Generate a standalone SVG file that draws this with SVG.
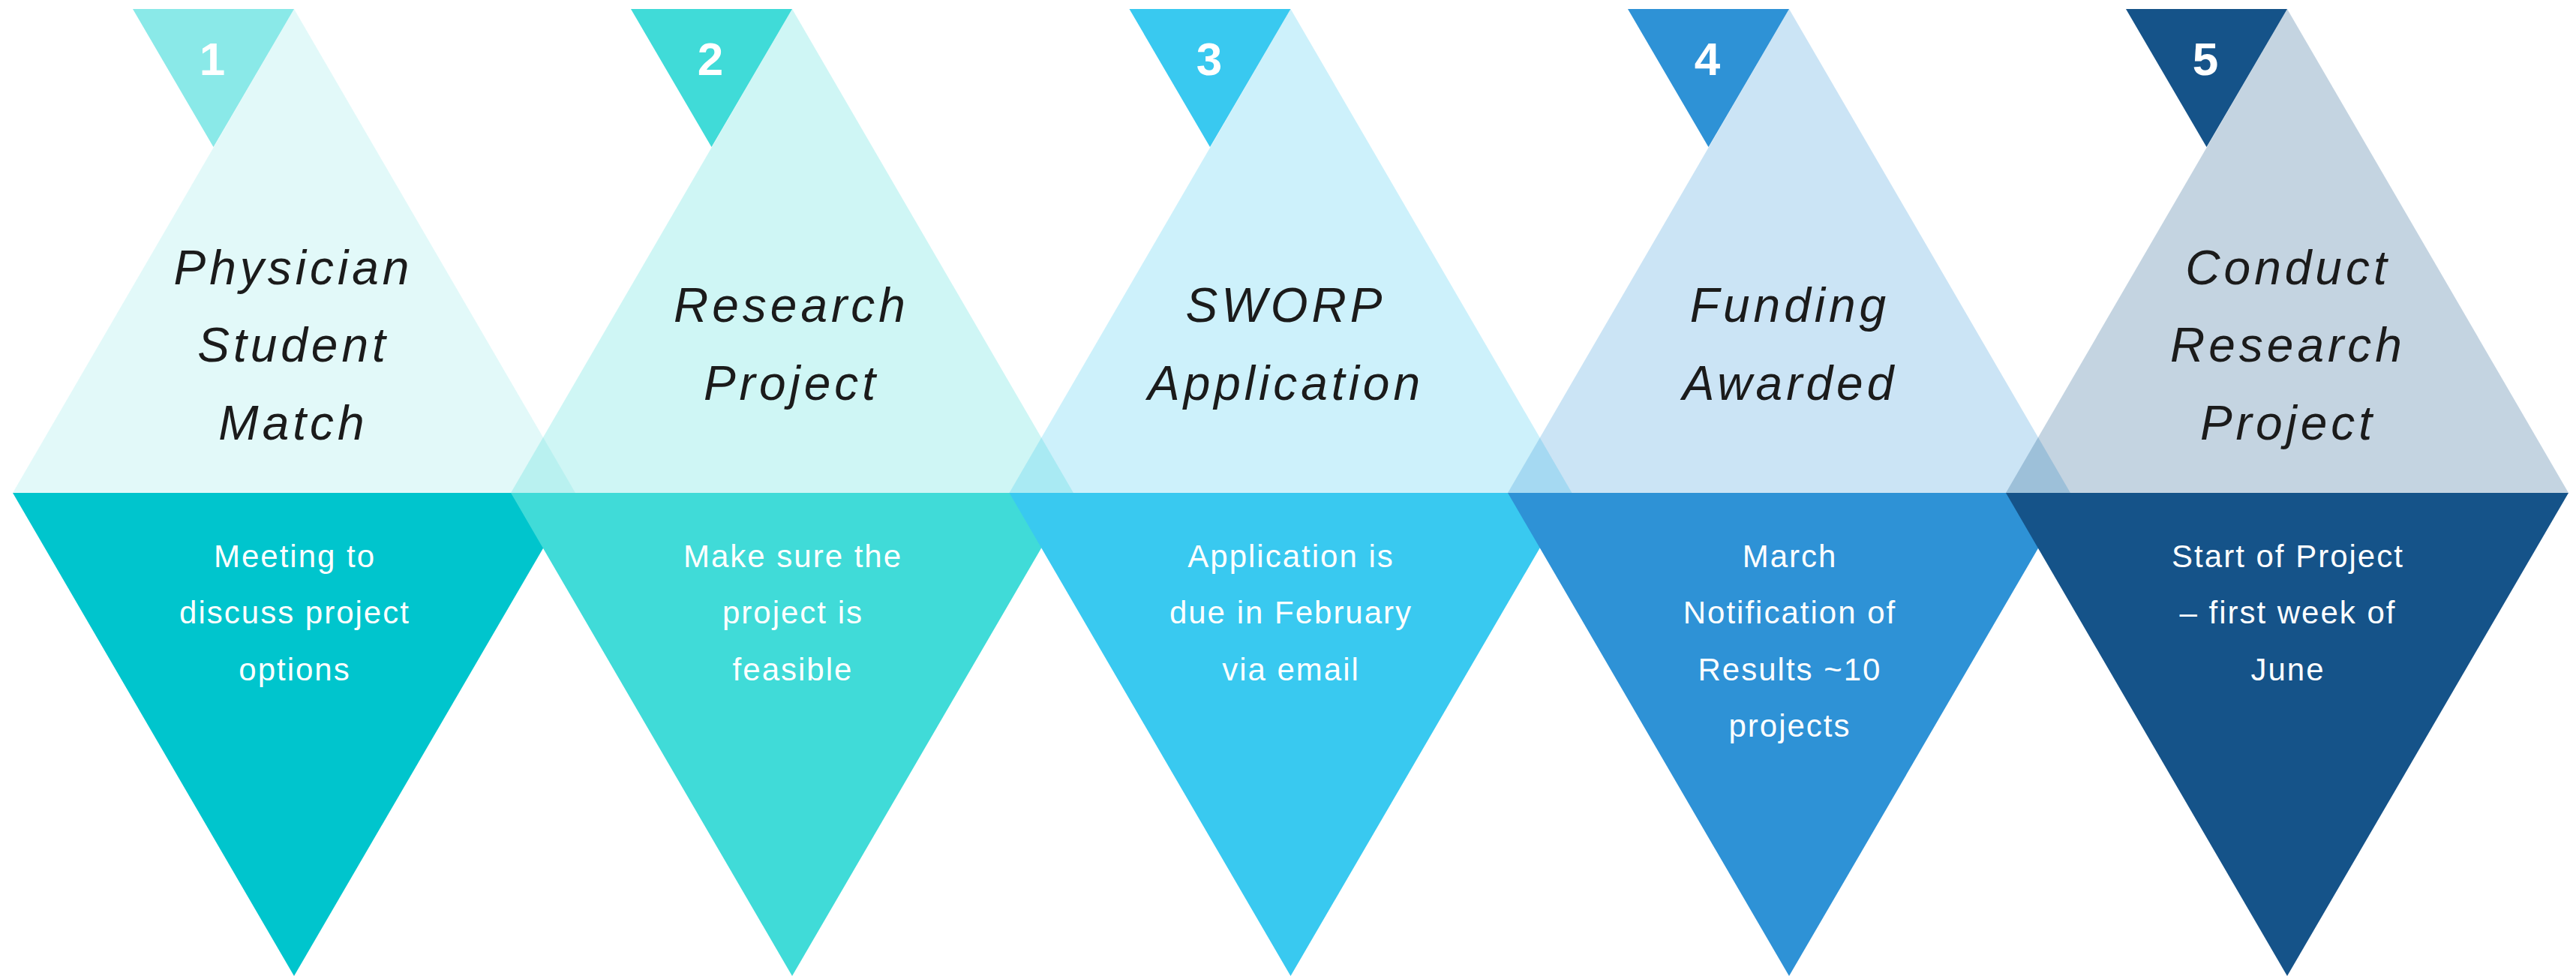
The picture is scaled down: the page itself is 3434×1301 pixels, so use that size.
<svg xmlns="http://www.w3.org/2000/svg" width="3434" height="1301" viewBox="0 0 3434 1301">
<style>
.title{font-family:"Liberation Sans",Arial,sans-serif;font-style:italic;font-size:64px;letter-spacing:5px;fill:#1b1b1b;text-anchor:middle}
.body{font-family:"Liberation Sans",Arial,sans-serif;font-size:42px;letter-spacing:2px;fill:#ffffff;text-anchor:middle}
.num{font-family:"Liberation Sans",Arial,sans-serif;font-weight:bold;font-size:62px;fill:#ffffff;text-anchor:middle}
.big{opacity:0.25}
</style>
<rect x="0" y="0" width="3434" height="1301" fill="#ffffff"/>
<g id="connectors"/>
<g id="step1">
<polygon class="big" points="392,12 767,657 17,657" fill="#8AE9E8"/>
<polygon points="177,12 392,12 284.5,196" fill="#8AE9E8"/>
<polygon points="17,657 767,657 392,1301" fill="#00C5CD"/>
<text class="num" x="283" y="100">1</text>
<text class="title" x="391" y="379">Physician</text>
<text class="title" x="391" y="482">Student</text>
<text class="title" x="391" y="586">Match</text>
<text class="body" x="393" y="756">Meeting to</text>
<text class="body" x="393" y="831">discuss project</text>
<text class="body" x="393" y="907">options</text>
</g>
<g id="step2">
<polygon class="big" points="1056,12 1431,657 681,657" fill="#40DBD8"/>
<polygon points="841,12 1056,12 948.5,196" fill="#40DBD8"/>
<polygon points="681,657 1431,657 1056,1301" fill="#40DBD8"/>
<text class="num" x="947" y="100">2</text>
<text class="title" x="1055" y="429">Research</text>
<text class="title" x="1055" y="533">Project</text>
<text class="body" x="1057" y="756">Make sure the</text>
<text class="body" x="1057" y="831">project is</text>
<text class="body" x="1057" y="907">feasible</text>
</g>
<g id="step3">
<polygon class="big" points="1720.5,12 2095.5,657 1345.5,657" fill="#39C9F0"/>
<polygon points="1505.5,12 1720.5,12 1613,196" fill="#39C9F0"/>
<polygon points="1345.5,657 2095.5,657 1720.5,1301" fill="#39C9F0"/>
<text class="num" x="1612" y="100">3</text>
<text class="title" x="1714" y="429">SWORP</text>
<text class="title" x="1714" y="533">Application</text>
<text class="body" x="1721" y="756">Application is</text>
<text class="body" x="1721" y="831">due in February</text>
<text class="body" x="1721" y="907">via email</text>
</g>
<g id="step4">
<polygon class="big" points="2385,12 2760,657 2010,657" fill="#2E92D6"/>
<polygon points="2170,12 2385,12 2277.5,196" fill="#2E92D6"/>
<polygon points="2010,657 2760,657 2385,1301" fill="#2E92D6"/>
<text class="num" x="2276" y="100">4</text>
<text class="title" x="2386" y="429">Funding</text>
<text class="title" x="2386" y="533">Awarded</text>
<text class="body" x="2386" y="756">March</text>
<text class="body" x="2386" y="831">Notification of</text>
<text class="body" x="2386" y="907">Results ~10</text>
<text class="body" x="2386" y="982">projects</text>
</g>
<g id="step5">
<polygon class="big" points="3049,12 3424,657 2674,657" fill="#155389"/>
<polygon points="2834,12 3049,12 2941.5,196" fill="#155389"/>
<polygon points="2674,657 3424,657 3049,1301" fill="#155389"/>
<text class="num" x="2940" y="100">5</text>
<text class="title" x="3050" y="379">Conduct</text>
<text class="title" x="3050" y="482">Research</text>
<text class="title" x="3050" y="586">Project</text>
<text class="body" x="3050" y="756">Start of Project</text>
<text class="body" x="3050" y="831">– first week of</text>
<text class="body" x="3050" y="907">June</text>
</g>
</svg>
